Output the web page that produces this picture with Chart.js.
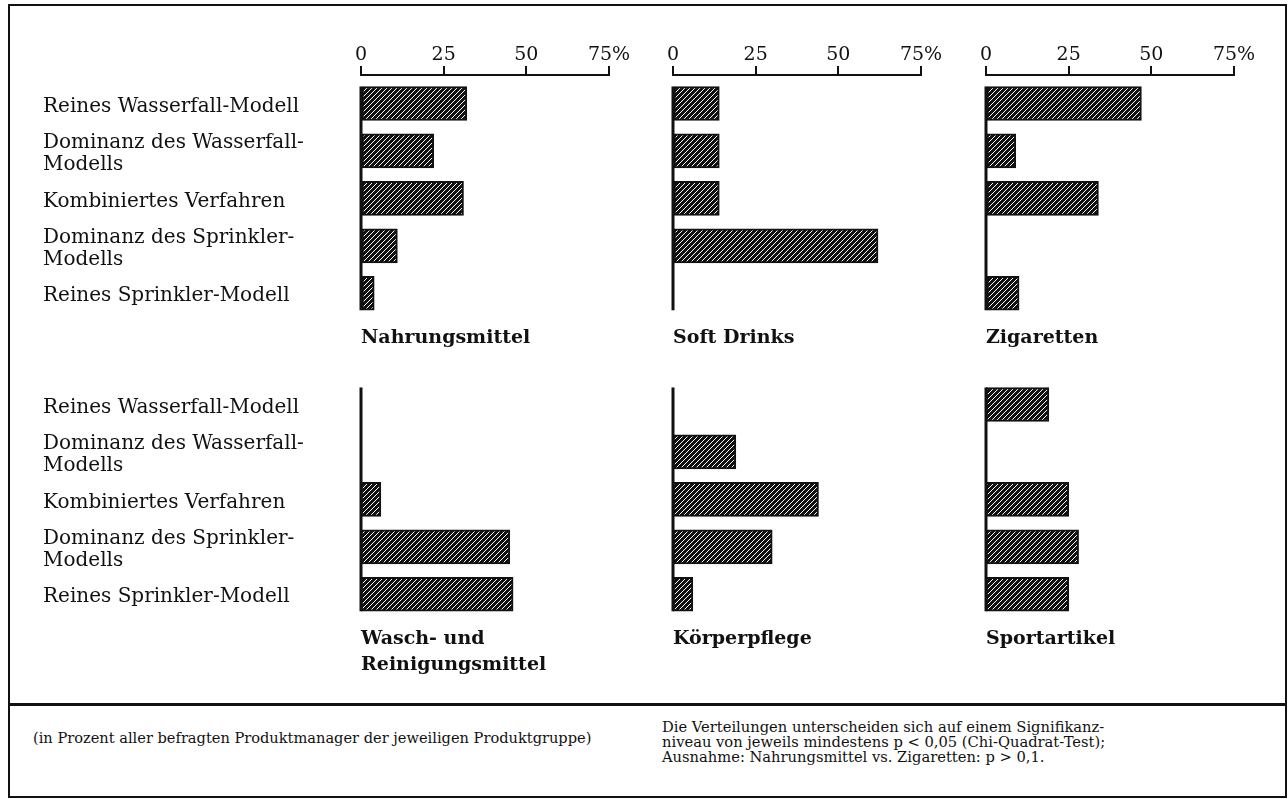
<!DOCTYPE html>
<html lang="de">
<head>
<meta charset="utf-8">
<title>Produktgruppen – Wasserfall- und Sprinkler-Modell</title>
<script src="https://cdn.jsdelivr.net/npm/chart.js@4.4.1/dist/chart.umd.min.js"></script>
<style>
  html, body { margin: 0; padding: 0; background: #fff; }
  #page { position: relative; width: 1288px; height: 799px; overflow: hidden;
          font-family: "DejaVu Serif", serif; color: #111; }
  #frame { position: absolute; left: 8px; top: 4px; width: 1279px; height: 794px;
           border: 2px solid #111; box-sizing: border-box; }
  #divider { position: absolute; left: 8px; top: 703px; width: 1279px; height: 3px; background: #111; }
  #page canvas { position: absolute; }
  .note { position: absolute; line-height: 15px; white-space: nowrap; }
</style>
</head>
<body>
<div id="page">
  <div id="frame"></div>
  <div id="divider"></div>
  <canvas id="p0"></canvas>
  <canvas id="p1"></canvas>
  <canvas id="p2"></canvas>
  <canvas id="p3"></canvas>
  <canvas id="p4"></canvas>
  <canvas id="p5"></canvas>
  <div class="note" style="left:33px; top:730px; font-size:14.6px;">(in Prozent aller befragten Produktmanager der jeweiligen Produktgruppe)</div>
  <div class="note" style="left:662px; top:719px; font-size:14.7px;">Die Verteilungen unterscheiden sich auf einem Signifikanz-<br>niveau von jeweils mindestens p &lt; 0,05 (Chi-Quadrat-Test);<br>Ausnahme: Nahrungsmittel vs. Zigaretten: p &gt; 0,1.</div>
</div>
<script>
// Vorgehensmodelle (Kategorien der y-Achse)
const categories = [
  ['Reines Wasserfall-Modell'],
  ['Dominanz des Wasserfall-', 'Modells'],
  ['Kombiniertes Verfahren'],
  ['Dominanz des Sprinkler-', 'Modells'],
  ['Reines Sprinkler-Modell']
];

// Produktgruppen (Titel der Teildiagramme)
const groups = ['Nahrungsmittel', 'Soft Drinks', 'Zigaretten',
                ['Wasch- und', 'Reinigungsmittel'], 'Körperpflege', 'Sportartikel'];

// Anteile in Prozent je Produktgruppe
const nahrungsmittel = [32, 22, 31, 11, 4];
const softDrinks     = [14, 14, 14, 62, 0];
const zigaretten     = [47, 9, 34, 0, 10];
const waschReinigung = [0, 0, 6, 45, 46];
const koerperpflege  = [0, 19, 44, 30, 6];
const sportartikel   = [19, 0, 25, 28, 25];

// Prozentachse
const axisTicks = [0, 25, 50, 75];
const axisTickLabels = ['0', '25', '50', '75%'];

const series = [nahrungsmittel, softDrinks, zigaretten, waschReinigung, koerperpflege, sportartikel];

const INK = '#111';
const FONT = '"DejaVu Serif", serif';

// Schraffur: schwarze Fläche mit feinen weißen Diagonalen
function hatchPattern() {
  const s = 5;
  const c = document.createElement('canvas');
  c.width = s; c.height = s;
  const g = c.getContext('2d');
  g.fillStyle = INK;
  g.fillRect(0, 0, s, s);
  g.strokeStyle = '#fff';
  g.lineWidth = 1.0;
  g.beginPath();
  for (let k = -1; k <= 1; k++) {
    g.moveTo(k * s, s);
    g.lineTo(k * s + s, 0);
  }
  g.stroke();
  return g.createPattern(c, 'repeat');
}
const hatch = hatchPattern();

// Senkrechte Nulllinie, nur über die Höhe der Balken
const zeroLine = {
  id: 'zeroLine',
  afterDatasetsDraw(chart) {
    const { ctx } = chart;
    const xs = chart.scales.x, ys = chart.scales.y;
    const half = chart.data.datasets[0].barThickness / 2;
    const x = xs.getPixelForValue(0);
    ctx.save();
    ctx.strokeStyle = INK;
    ctx.lineWidth = 3;
    ctx.beginPath();
    ctx.moveTo(x, ys.getPixelForValue(0) - half);
    ctx.lineTo(x, ys.getPixelForValue(categories.length - 1) + half);
    ctx.stroke();
    ctx.restore();
  }
};

// Raster der Teildiagramme
const zeroX = [361, 673, 986];
const span = 248;            // Breite 0–75 %
const rows = [
  { canvasTop: 0,   plotTop: 75,  padTop: 35 },
  { canvasTop: 356, plotTop: 376, padTop: 20 }
];
const plotHeight = 242;
const labelLeft = 43;
const titleLineH = 26, titlePadTop = 8, padRight = 30, padBottom = 2;

series.forEach((values, idx) => {
  const col = idx % 3, row = Math.floor(idx / 3);
  const r = rows[row];
  const title = groups[idx];
  const titleLines = Array.isArray(title) ? title.length : 1;
  const canvasLeft = col === 0 ? 0 : zeroX[col] - 20;
  const padLeft = col === 0 ? labelLeft : 20;
  const width = zeroX[col] - canvasLeft + span + padRight;
  const height = (r.plotTop + plotHeight - r.canvasTop) + titlePadTop + titleLineH * titleLines + padBottom;

  const cv = document.getElementById('p' + idx);
  cv.width = width; cv.height = height;
  cv.style.left = canvasLeft + 'px';
  cv.style.top = r.canvasTop + 'px';

  new Chart(cv, {
    type: 'bar',
    data: {
      datasets: [{
        data: values.map((v, i) => ({ x: v, y: i })),
        backgroundColor: hatch,
        borderColor: INK,
        borderWidth: 2,
        borderSkipped: false,
        barThickness: 34
      }]
    },
    options: {
      indexAxis: 'y',
      responsive: false,
      animation: false,
      devicePixelRatio: 1,
      events: [],
      layout: { padding: { left: padLeft, top: r.padTop, right: padRight, bottom: padBottom } },
      scales: {
        x: {
          type: 'linear',
          position: 'top',
          min: 0, max: 75,
          display: row === 0,
          afterFit: row === 0 ? (s) => { s.height = r.plotTop - r.padTop; } : undefined,
          afterBuildTicks: (s) => { s.ticks = axisTicks.map(v => ({ value: v })); },
          grid: { drawOnChartArea: false, drawTicks: true, tickLength: 9, lineWidth: 2, color: INK },
          border: { display: true, width: 2, color: INK },
          ticks: {
            padding: 0, maxRotation: 0, autoSkip: false, color: INK,
            font: { family: FONT, size: 19 },
            callback: (v) => axisTickLabels[axisTicks.indexOf(v)]
          }
        },
        y: {
          type: 'linear',
          reverse: true,
          offset: false,
          min: -0.6, max: 4.5,
          display: col === 0,
          afterFit: col === 0 ? (s) => { s.width = zeroX[0] - labelLeft; } : undefined,
          grid: { display: false },
          border: { display: false },
          ticks: {
            stepSize: 1, includeBounds: false, autoSkip: false,
            crossAlign: 'far', labelOffset: 3, color: INK,
            font: { family: FONT, size: 20, lineHeight: '22px' },
            callback: (v) => (Number.isInteger(v) && categories[v]) ? categories[v] : ''
          }
        }
      },
      plugins: {
        legend: { display: false },
        tooltip: { enabled: false },
        title: {
          display: true,
          text: title,
          position: 'bottom',
          align: 'start',
          fullSize: false,
          color: INK,
          font: { family: FONT, size: 19, weight: 'bold', lineHeight: titleLineH + 'px' },
          padding: { top: titlePadTop, bottom: 0 }
        }
      }
    },
    plugins: [zeroLine]
  });
});
</script>
</body>
</html>
